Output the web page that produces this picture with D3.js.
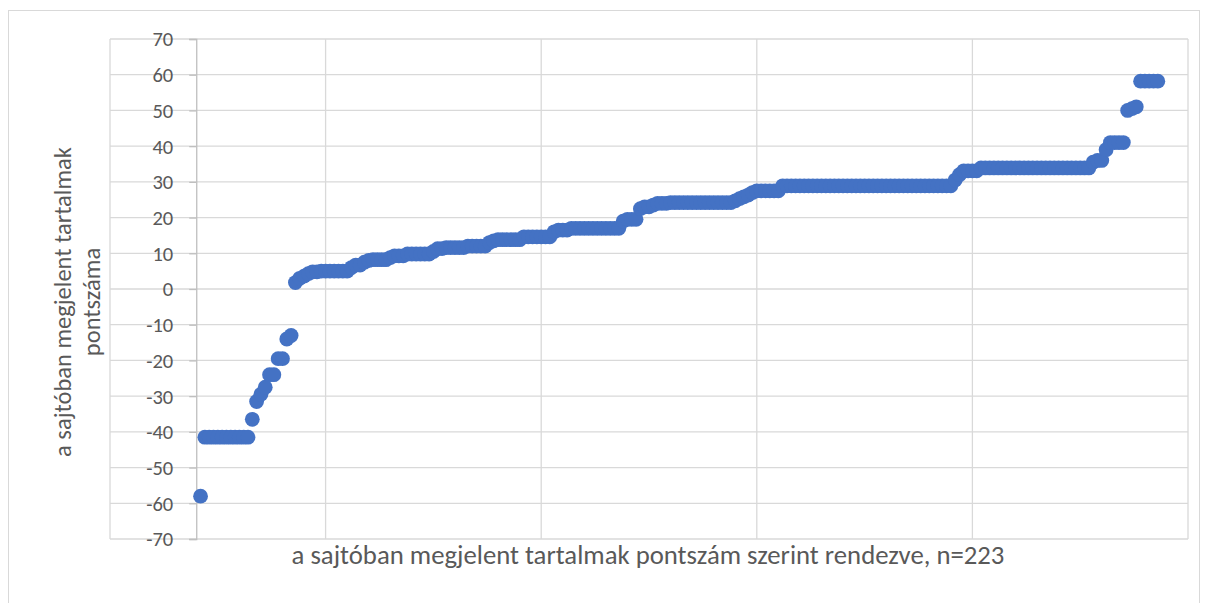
<!DOCTYPE html>
<html>
<head>
<meta charset="utf-8">
<script src="https://cdn.jsdelivr.net/npm/d3@7"></script>
<style>
  body { margin: 0; background: #fff; }
  svg { display: block; }
  text { font-family: Calibri, Carlito, "Open Sans", sans-serif; fill: #595959; }
</style>
</head>
<body>
<svg width="1207" height="603"></svg>
<script>
var width = 1207;
var height = 603;

// sorted scores, one per press item (n=223)
var scores = [
  -58, -41.5, -41.5, -41.5, -41.5, -41.5, -41.5, -41.5, -41.5, -41.5, -41.5, -41.5,
  -36.5, -31.5, -29.5, -27.5, -24, -24, -19.5, -19.5, -14, -13,
  1.8, 3, 3.6, 4.3, 4.8, 4.8, 5, 5, 5, 5, 5, 5, 5, 6, 6.7, 6.7, 7.5, 8,
  8.2, 8.2, 8.2, 8.2, 8.8, 9.3, 9.3, 9.3, 9.8, 9.8, 9.8, 9.8, 9.8, 9.8,
  10.5, 11.3, 11.3, 11.6, 11.6, 11.6, 11.6, 11.6, 12, 12, 12, 12, 12,
  13, 13.5, 13.8, 13.8, 13.8, 13.8, 13.8, 13.8,
  14.6, 14.6, 14.6, 14.6, 14.6, 14.6, 14.6, 16, 16.5, 16.5, 16.5,
  17, 17, 17, 17, 17, 17, 17, 17, 17, 17, 17, 17,
  19, 19.5, 19.5, 19.5, 22.5, 23, 23, 23.5, 24, 24, 24,
  24.2, 24.2, 24.2, 24.2, 24.2, 24.2, 24.2, 24.2, 24.2, 24.2, 24.2, 24.2, 24.2, 24.2, 24.2,
  24.7, 25.3, 25.8, 26.3, 27, 27.5, 27.5, 27.5, 27.5, 27.5, 27.5,
  28.9, 28.9, 28.9, 28.9, 28.9, 28.9, 28.9, 28.9, 28.9, 28.9,
  28.9, 28.9, 28.9, 28.9, 28.9, 28.9, 28.9, 28.9, 28.9, 28.9,
  28.9, 28.9, 28.9, 28.9, 28.9, 28.9, 28.9, 28.9, 28.9, 28.9,
  28.9, 28.9, 28.9, 28.9, 28.9, 28.9, 28.9, 28.9, 28.9, 28.9,
  30.5, 32, 33.1, 33.1, 33.1, 33.1,
  33.9, 33.9, 33.9, 33.9, 33.9, 33.9, 33.9, 33.9, 33.9, 33.9, 33.9, 33.9, 33.9,
  33.9, 33.9, 33.9, 33.9, 33.9, 33.9, 33.9, 33.9, 33.9, 33.9, 33.9, 33.9, 33.9,
  35.5, 36, 36, 39, 41, 41, 41, 41, 50, 50.5, 51, 58.2, 58.2, 58.2, 58.2, 58.2
];

var xGrid = [-20, 30, 80, 130, 180, 230];
var yTicks = [-70, -60, -50, -40, -30, -20, -10, 0, 10, 20, 30, 40, 50, 60, 70];
var xTitle = "a sajtóban megjelent tartalmak pontszám szerint rendezve, n=223";
var yTitle = ["a sajtóban megjelent tartalmak", "pontszáma"];

//----------------------------------------------------------------------------------------------------------------------
// scales
//----------------------------------------------------------------------------------------------------------------------
var x = d3.scaleLinear().domain([-20, 230]).range([110, 1188]);
var y = d3.scaleLinear().domain([-70, 70]).range([539, 39]);

var svg = d3.select("svg");

// chart border
svg.append("rect")
    .attr("x", 8.5).attr("y", 10.5)
    .attr("width", 1191).attr("height", 620)
    .attr("fill", "none")
    .attr("stroke", "#d9d9d9");

//----------------------------------------------------------------------------------------------------------------------
// grid
//----------------------------------------------------------------------------------------------------------------------
var grid = svg.append("g").attr("stroke", "#d9d9d9").attr("stroke-width", 1.3);
grid.selectAll("line.h")
    .data(yTicks)
    .enter().append("line")
    .attr("x1", x(-20)).attr("x2", x(230))
    .attr("y1", d => y(d)).attr("y2", d => y(d));
grid.selectAll("line.v")
    .data(xGrid)
    .enter().append("line")
    .attr("x1", d => x(d)).attr("x2", d => x(d))
    .attr("y1", y(-70)).attr("y2", y(70));

//----------------------------------------------------------------------------------------------------------------------
// y axis (crosses at x = 0)
//----------------------------------------------------------------------------------------------------------------------
var yAxis = svg.append("g")
    .attr("transform", "translate(" + x(0) + ",0)")
    .call(d3.axisLeft(y).tickValues(yTicks).tickSize(7).tickPadding(16).tickFormat(d => String(d)));
yAxis.select(".domain").attr("stroke", "#bfbfbf").attr("stroke-width", 1.3);
yAxis.selectAll(".tick line").attr("stroke", "#bfbfbf").attr("stroke-width", 1.3);
yAxis.selectAll(".tick text")
    .attr("fill", "#595959")
    .attr("dy", "0.34em")
    .style("font-size", "20.5px")
    .style("font-family", "Calibri, Carlito, 'Open Sans', sans-serif");

//----------------------------------------------------------------------------------------------------------------------
// points
//----------------------------------------------------------------------------------------------------------------------
svg.append("g").selectAll("circle")
    .data(scores)
    .enter().append("circle")
    .attr("cx", (d, i) => x(i + 1))
    .attr("cy", d => y(d))
    .attr("r", 7.4)
    .attr("fill", "#4472c4");

//----------------------------------------------------------------------------------------------------------------------
// titles
//----------------------------------------------------------------------------------------------------------------------
var xt = svg.append("text")
    .attr("x", 648).attr("y", 564)
    .attr("text-anchor", "middle")
    .style("font-size", "18px")
    .text(xTitle);
var fs = 18 * 713 / xt.node().getComputedTextLength();
xt.style("font-size", fs + "px");

var yt = svg.selectAll("text.ytitle")
    .data(yTitle)
    .enter().append("text")
    .attr("class", "ytitle")
    .attr("transform", (d, i) => "translate(" + (i ? 100 : 71) + ",302) rotate(-90)")
    .attr("text-anchor", "middle")
    .style("font-size", "18px")
    .text(d => d);
var fsY = 18 * 310 / yt.node().getComputedTextLength();
yt.style("font-size", fsY + "px");
</script>
</body>
</html>
